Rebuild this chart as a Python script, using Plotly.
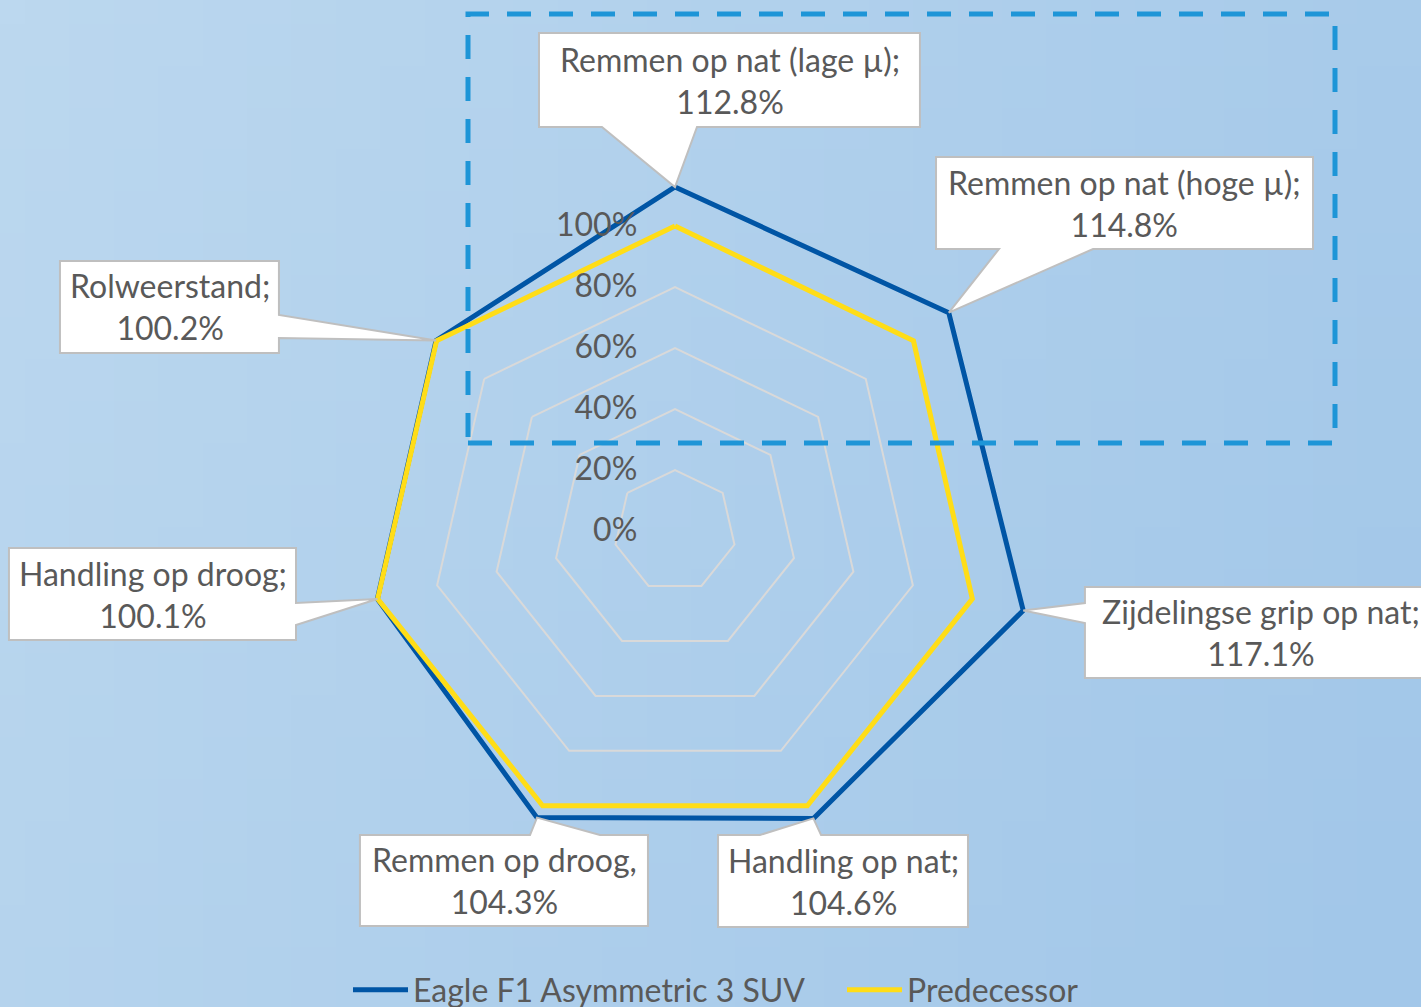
import math, zlib, struct, base64
import plotly.graph_objects as go

# ---------------- data ----------------
categories = ["Remmen op nat (lage µ)", "Remmen op nat (hoge µ)", "Zijdelingse grip op nat",
              "Handling op nat", "Remmen op droog", "Handling op droog", "Rolweerstand"]
separators = [";", ";", ";", ";", ",", ";", ";"]
eagle_values = [112.8, 114.8, 117.1, 104.6, 104.3, 100.1, 100.2]
predecessor_values = [100, 100, 100, 100, 100, 100, 100]
tick_values = [0, 20, 40, 60, 80, 100]
tick_labels = ["0%", "20%", "40%", "60%", "80%", "100%"]
series_names = ["Eagle F1 Asymmetric 3 SUV", "Predecessor"]

# ---------------- style / geometry ----------------
W, H = 1421, 1007
CX, CY = 675, 531          # pixel centre of the radar
K = 3.05                   # pixels per percent
RMAX = 120
FONT = "Lato"
FS = 32
TXT = "#595959"
BLUE = "#0055a5"
YELLOW = "#ffdd17"

def px2paper(x, y):
    return x / W, 1 - y / H

def data2px(i, r):
    ang = math.radians(90 - i * 360 / len(categories))
    return CX + r * K * math.cos(ang), CY - r * K * math.sin(ang)

# callout boxes: (x0, y0, x1, y1), side of pointer, pointer base span
callouts = [
    ((539, 33, 920, 127), "bottom", (602, 697)),
    ((936, 157, 1313, 249), "bottom", (999, 1093)),
    ((1085, 587, 1436, 678), "left", (603, 623)),
    ((718, 835, 968, 927), "top", (760, 821)),
    ((360, 835, 648, 926), "top", (530, 600)),
    ((9, 548, 296, 640), "right", (603, 625)),
    ((60, 261, 279, 353), "right", (315, 338)),
]

# background gradient image
def make_png(w, h, func):
    raw = b""
    for j in range(h):
        row = b"\x00"
        for i in range(w):
            row += bytes(func(i / (w - 1), j / (h - 1)))
        raw += row
    def chunk(t, d):
        return struct.pack(">I", len(d)) + t + d + struct.pack(">I", zlib.crc32(t + d) & 0xffffffff)
    return (b"\x89PNG\r\n\x1a\n" + chunk(b"IHDR", struct.pack(">IIBBBBB", w, h, 8, 2, 0, 0, 0))
            + chunk(b"IDAT", zlib.compress(raw)) + chunk(b"IEND", b""))

def bg(u, v):
    c0 = (188, 216, 239)   # top-left
    c1 = (162, 199, 233)   # right
    t = min(1, max(0, 0.75 * u + 0.25 * v))
    return tuple(int(c0[k] + (c1[k] - c0[k]) * t) for k in range(3))

bg_uri = "data:image/png;base64," + base64.b64encode(make_png(32, 24, bg)).decode()

fig = go.Figure()
closed_cats = categories + categories[:1]
fig.add_trace(go.Scatterpolar(r=eagle_values + eagle_values[:1], theta=closed_cats, mode="lines",
                              name=series_names[0], line=dict(color=BLUE, width=5)))
fig.add_trace(go.Scatterpolar(r=predecessor_values + predecessor_values[:1], theta=closed_cats, mode="lines",
                              name=series_names[1], line=dict(color=YELLOW, width=5)))

shapes = []
annotations = []
for i, ((x0, y0, x1, y1), side, (b1, b2)) in enumerate(callouts):
    tx, ty = data2px(i, eagle_values[i])
    if side == "bottom":
        pts = [(x0, y0), (x1, y0), (x1, y1), (b2, y1), (tx, ty), (b1, y1), (x0, y1)]
    elif side == "top":
        pts = [(x0, y0), (b1, y0), (tx, ty), (b2, y0), (x1, y0), (x1, y1), (x0, y1)]
    elif side == "right":
        pts = [(x0, y0), (x1, y0), (x1, b1), (tx, ty), (x1, b2), (x1, y1), (x0, y1)]
    else:  # left
        pts = [(x0, y0), (x1, y0), (x1, y1), (x0, y1), (x0, b2), (tx, ty), (x0, b1)]
    path = "M " + " L ".join("%.4f,%.4f" % px2paper(x, y) for x, y in pts) + " Z"
    shapes.append(dict(type="path", path=path, xref="paper", yref="paper",
                       fillcolor="white", line=dict(color="#bfbfbf", width=2), layer="above"))
    cx_, cy_ = px2paper((x0 + x1) / 2, (y0 + y1) / 2)
    annotations.append(dict(x=cx_, y=cy_, xref="paper", yref="paper", showarrow=False,
                            text=f"{categories[i]}{separators[i]}<br>{eagle_values[i]:.1f}%",
                            font=dict(family=FONT, size=FS, color=TXT), align="center",
                            xanchor="center", yanchor="middle"))

# dashed highlight rectangle
rx0, ry0 = px2paper(468, 14)
rx1, ry1 = px2paper(1335, 443)
shapes.append(dict(type="rect", xref="paper", yref="paper", x0=rx0, y0=ry1, x1=rx1, y1=ry0,
                   line=dict(color="#1e95d7", width=5, dash="24px,18px"), layer="above"))

dx0, _ = px2paper(CX - RMAX * K, 0)
dx1, _ = px2paper(CX + RMAX * K, 0)
_, dy0 = px2paper(0, CY + RMAX * K)
_, dy1 = px2paper(0, CY - RMAX * K)

fig.update_layout(
    width=W, height=H, margin=dict(l=0, r=0, t=0, b=0, autoexpand=False),
    paper_bgcolor="#acd0ec",
    font=dict(family=FONT, size=FS, color=TXT),
    images=[dict(source=bg_uri, xref="paper", yref="paper", x=0, y=1, sizex=1, sizey=1,
                 sizing="stretch", layer="below", xanchor="left", yanchor="top")],
    polar=dict(
        domain=dict(x=[dx0, dx1], y=[dy0, dy1]),
        bgcolor="rgba(0,0,0,0)",
        gridshape="linear",
        angularaxis=dict(rotation=90, direction="clockwise", showticklabels=False, ticks="",
                         showgrid=False, showline=False),
        radialaxis=dict(range=[0, RMAX], tickvals=tick_values, ticktext=tick_labels, angle=90,
                        tickangle=90, side="counterclockwise", showline=False,
                        ticks="outside", ticklen=26, tickcolor="rgba(0,0,0,0)",
                        gridcolor="#d9d9d9", gridwidth=2,
                        tickfont=dict(family=FONT, size=FS, color=TXT)),
    ),
    shapes=shapes,
    annotations=annotations,
    showlegend=True,
    legend=dict(orientation="h", x=348 / W, xanchor="left", y=1 - 990 / H, yanchor="middle",
                xref="container", yref="container",
                font=dict(family=FONT, size=FS, color=TXT), bgcolor="rgba(0,0,0,0)",
                itemwidth=55, entrywidth=424, entrywidthmode="pixels"),
)

fig.write_html("out.html", config={"displayModeBar": False},
               post_script="document.body.style.margin='0';document.body.style.padding='0';")
